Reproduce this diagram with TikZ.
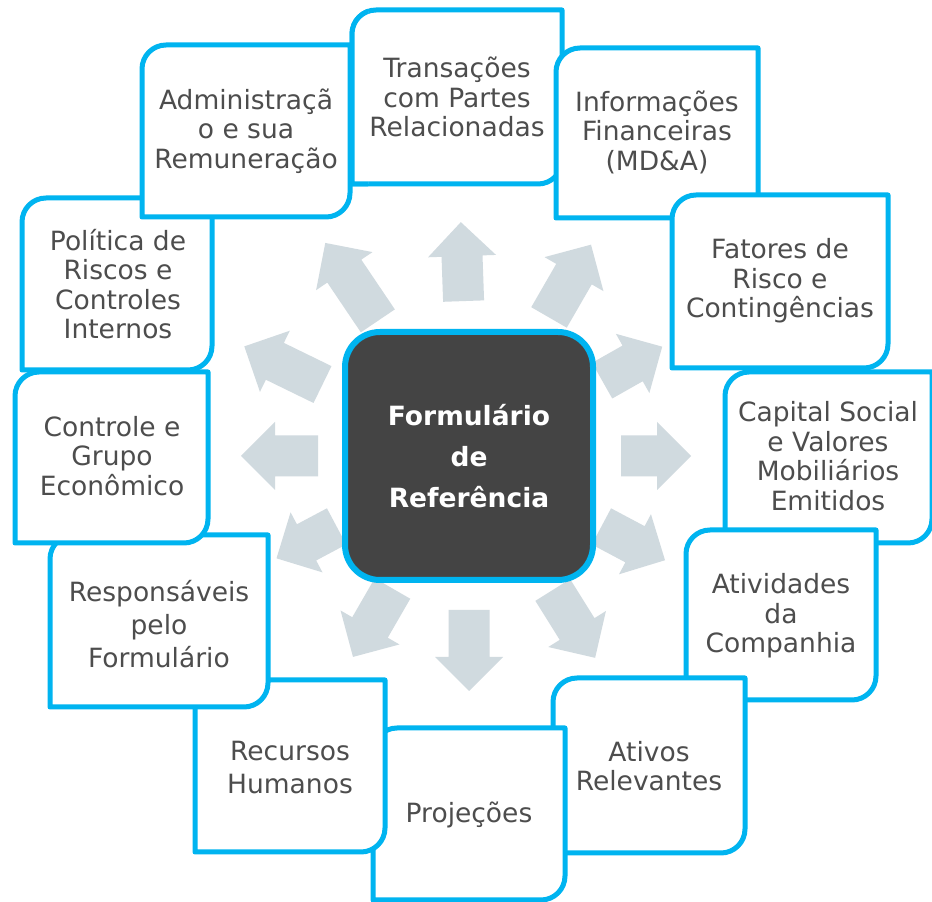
\documentclass[tikz,border=0pt]{standalone}
\usepackage{fontspec}
\setmainfont{DejaVu Sans}
\definecolor{cy}{HTML}{00B4F0}
\definecolor{txt}{HTML}{4D4D4D}
\definecolor{arr}{HTML}{D0DADF}
\definecolor{darkfill}{HTML}{444444}
% box with rounded top-left and bottom-right corners: left, top, right, bottom (pixel coords from top)
\newcommand{\rbox}[4]{\path[boxline] (#3,902-#2) -- (#1+24,902-#2) arc[start angle=90,end angle=180,radius=24] -- (#1,902-#4) -- (#3-24,902-#4) arc[start angle=270,end angle=360,radius=24] -- cycle;}
% block arrow: angle, inner radius, tip radius
\newcommand{\blockarrow}[3]{\fill[arrowfill, shift={(469,446)}, rotate=#1] (#2,-20.5) -- (#3-34,-20.5) -- (#3-34,-34) -- (#3,0) -- (#3-34,34) -- (#3-34,20.5) -- (#2,20.5) -- cycle;}
\begin{document}
\begin{tikzpicture}[x=1pt,y=1pt,
  boxline/.style={draw=cy, line width=5pt, fill=white, line join=round},
  boxtext/.style={text=txt, align=center, font=\fontsize{26.5}{29.5}\selectfont, inner sep=0pt},
  boxtextwide/.style={text=txt, align=center, font=\fontsize{26.5}{33}\selectfont, inner sep=0pt},
  arrowfill/.style={fill=arr}]
\useasboundingbox (0,0) rectangle (932,902);
\fill[white] (0,0) rectangle (932,902);
% arrows
\blockarrow{92}{155}{234}
\blockarrow{60}{160}{244}
\blockarrow{29.5}{153}{222}
\blockarrow{0}{152}{222}
\blockarrow{-28}{150}{222}
\blockarrow{-58}{158}{238}
\blockarrow{-90}{154}{235}
\blockarrow{-120}{153}{232}
\blockarrow{208}{150}{218}
\blockarrow{180}{151}{228}
\blockarrow{154}{163}{250}
\blockarrow{124}{163}{257}
% center
\node[draw=cy, line width=6pt, fill=darkfill, rounded corners=35pt, minimum width=248pt, minimum height=248pt, text=white, font=\bfseries\fontsize{26.5}{41}\selectfont, align=center] (center) at (469,446) {Formulário\\de\\Referência};
% boxes
\rbox{352}{10}{562}{184}
\node[boxtext] (b1) at (457,805) {Transações\\com Partes\\Relacionadas};
\rbox{556}{48}{758}{218}
\node[boxtext] (b2) at (657,770) {Informações\\Financeiras\\(MD\&A)};
\rbox{672}{195}{888}{368}
\node[boxtext] (b3) at (780,621) {Fatores de\\Risco e\\Contingências};
\rbox{725}{372}{932}{543}
\node[boxtext] (b4) at (828,446) {Capital Social\\e Valores\\Mobiliários\\Emitidos};
\rbox{686}{530}{876}{700}
\node[boxtext] (b5) at (781,286) {Atividades\\da\\Companhia};
\rbox{553}{678}{745}{853}
\node[boxtext] (b6) at (649,136) {Ativos\\Relevantes};
\rbox{373}{728}{565}{900}
\node[boxtext] (b7) at (469,87) {Projeções};
\rbox{195}{680}{385}{852}
\node[boxtextwide] (b8) at (290,134) {Recursos\\Humanos};
\rbox{50}{535}{268}{707}
\node[boxtextwide] (b9) at (159,278) {Responsáveis\\pelo\\Formulário};
\rbox{15}{372}{208}{543}
\node[boxtext] (b10) at (112,446) {Controle e\\Grupo\\Econômico};
\rbox{22}{198}{212}{370}
\node[boxtext] (b11) at (118,618) {Política de\\Riscos e\\Controles\\Internos};
\rbox{142}{45}{350}{217}
\node[boxtext] (b12) at (246,771) {Administraçã\\o e sua\\Remuneração};
% Transações lies over Administração: redraw its left edge strip
\begin{scope}
\clip (340,700) rectangle (368,902);
\rbox{352}{10}{562}{184}
\end{scope}
\end{tikzpicture}
\end{document}
